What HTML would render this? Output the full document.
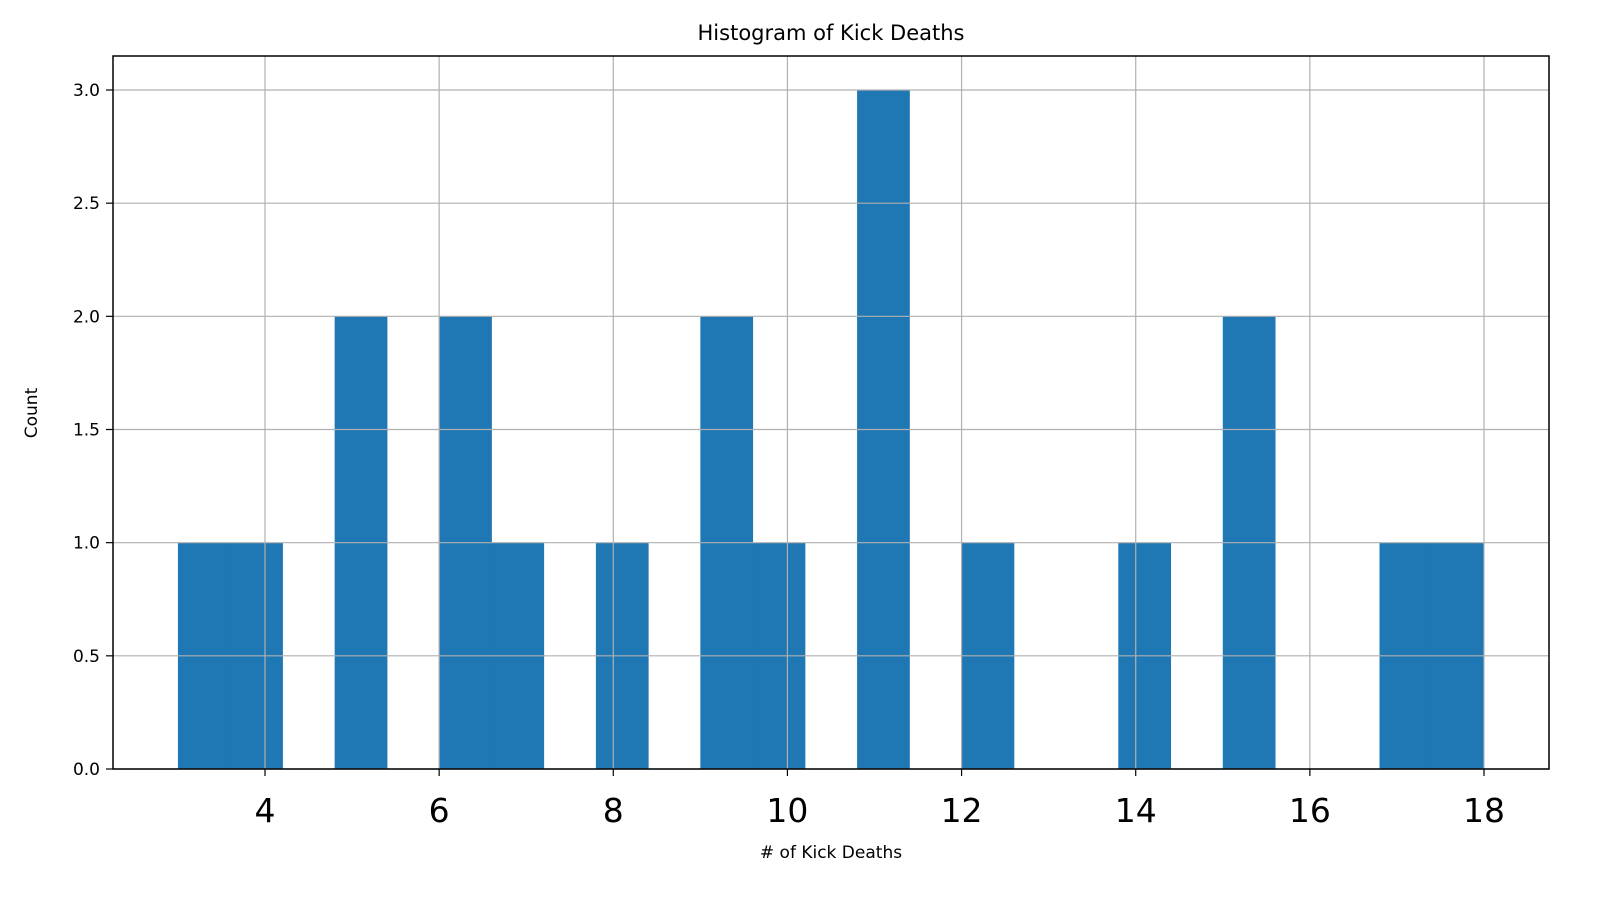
<!DOCTYPE html>
<html><head><meta charset="utf-8"><style>
body{margin:0;background:#fff;}
svg text{font-family:"DejaVu Sans","Liberation Sans",sans-serif;fill:#000;}
</style></head><body>
<svg id="chart" width="1624" height="914" xmlns="http://www.w3.org/2000/svg">
<rect width="1624" height="914" fill="#fff"/>
<g id="bars"></g>
<g id="grid"></g>
<g id="ticks"></g>
<rect x="113" y="56" width="1436" height="713" fill="none" stroke="#000" stroke-width="1.5"/>
<text x="831" y="40" font-size="21" text-anchor="middle">Histogram of Kick Deaths</text>
<text x="831" y="858" font-size="17" text-anchor="middle"># of Kick Deaths</text>
<text transform="translate(37,413) rotate(-90)" font-size="17" text-anchor="middle">Count</text>
</svg>
<script>
const binStart = 3;
const binWidth = 0.6;
const counts = [1,1,0,2,0,2,1,0,1,0,2,1,0,3,0,1,0,0,1,0,2,0,0,1,1];
const xTicks = [4,6,8,10,12,14,16,18];
const yTicks = [0,0.5,1,1.5,2,2.5,3];
const yTickLabels = ["0.0","0.5","1.0","1.5","2.0","2.5","3.0"];
const NS = "http://www.w3.org/2000/svg";
function xs(v){return 265 + (v-4)*(1484-265)/14;}
function ys(v){return 769 - v*(769-90)/3;}
function mk(tag, attrs, parent){const e=document.createElementNS(NS,tag);for(const k in attrs)e.setAttribute(k,attrs[k]);parent.appendChild(e);return e;}
const bars=document.getElementById('bars'), grid=document.getElementById('grid'), ticks=document.getElementById('ticks');
counts.forEach((c,i)=>{
  if(c<=0) return;
  const x0=xs(binStart+i*binWidth), x1=xs(binStart+(i+1)*binWidth);
  const r=mk('rect',{x:x0,y:ys(c),width:x1-x0+0.5,height:ys(0)-ys(c),fill:'#1f77b4'},bars);
  
  
});
xTicks.forEach(t=>{
  const x=xs(t);
  const g=mk('line',{x1:x,x2:x,y1:56,y2:769,stroke:'#b0b0b0','stroke-width':1.2},grid);
  
  
  mk('line',{x1:x,x2:x,y1:769,y2:776,stroke:'#000','stroke-width':1.2},ticks);
  const tx=mk('text',{x:x,y:822,'font-size':33,'text-anchor':'middle'},ticks);
  tx.textContent=t;
  
  
});
yTicks.forEach((t,i)=>{
  const y=ys(t);
  const g=mk('line',{x1:113,x2:1549,y1:y,y2:y,stroke:'#b0b0b0','stroke-width':1.2},grid);
  
  
  mk('line',{x1:106,x2:113,y1:y,y2:y,stroke:'#000','stroke-width':1.2},ticks);
  const tx=mk('text',{x:100,y:y+6,'font-size':17,'text-anchor':'end'},ticks);
  tx.textContent=yTickLabels[i];
  
  
});
</script>
</body></html>
